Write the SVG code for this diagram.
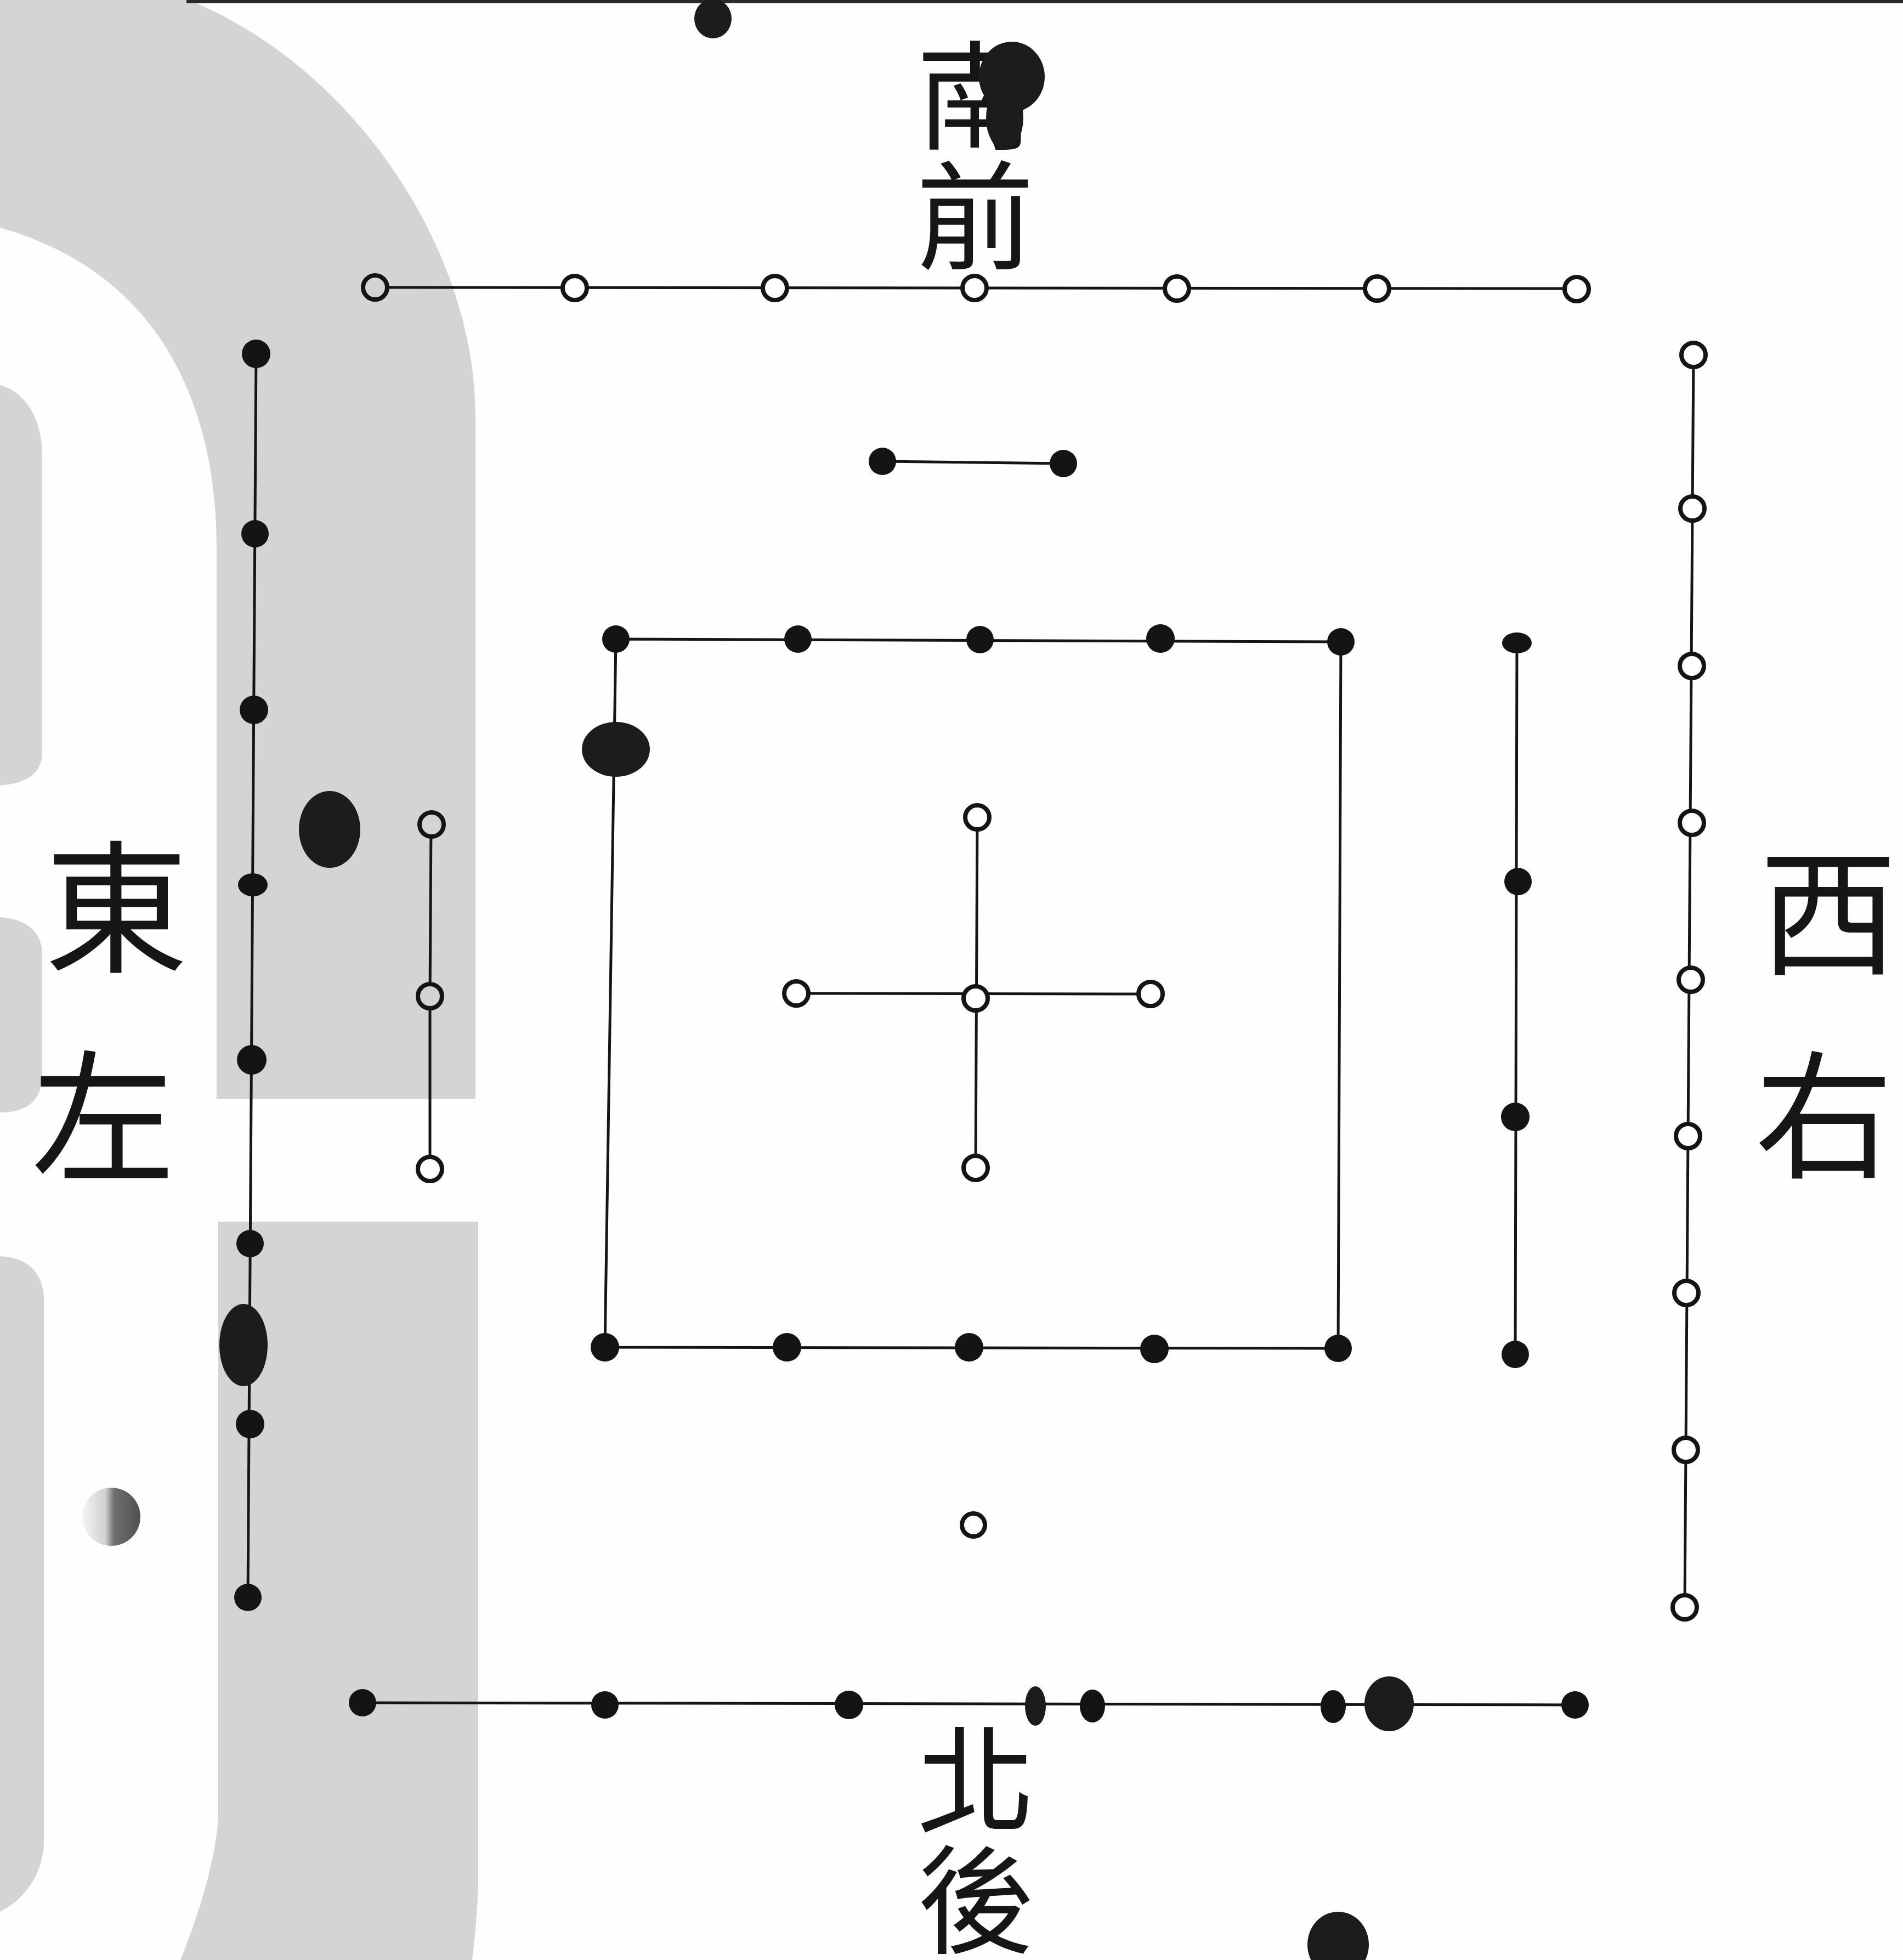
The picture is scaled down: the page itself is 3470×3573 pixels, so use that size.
<svg xmlns="http://www.w3.org/2000/svg" width="3470" height="3573" viewBox="0 0 3470 3573">
<defs>
<style>
.ln{stroke:#151515;stroke-width:5;fill:none;stroke-linecap:round}
.fd{fill:#141414}
.op{fill:#fff;stroke:#141414;stroke-width:8}
.opg{fill:#d4d4d4;stroke:#141414;stroke-width:8}
.gray{fill:#d4d4d4}
.lbl{font-family:"Noto Sans CJK TC","Noto Sans CJK JP",sans-serif;fill:#161616;writing-mode:vertical-rl;text-anchor:start}
.hl{font-family:"Noto Sans CJK TC","Noto Sans CJK JP",sans-serif;fill:#161616;text-anchor:middle;dominant-baseline:central}
.blot{fill:#1c1c1c}
</style>
<linearGradient id="ball" x1="0" y1="0" x2="1" y2="0">
<stop offset="0" stop-color="#f4f4f4"/>
<stop offset="0.4" stop-color="#d0d0d0"/>
<stop offset="0.55" stop-color="#6e6e6e"/>
<stop offset="1" stop-color="#505050"/>
</linearGradient>
</defs>
<rect x="0" y="0" width="3470" height="3573" fill="#fefefe"/>
<g id="background">
<path class="gray" d="M0,0 L344,0 C640,120 867,450 867,760 L867,2003 L395,2003 L395,1000 C395,750 300,500 0,415 Z"/>
<path class="gray" d="M398,2227 L872,2227 L872,3440 Q868,3520 861,3573 L329,3573 Q390,3420 398,3315 Z"/>
<path class="gray" d="M0,702 C50,715 77,770 77,830 L77,1370 C77,1405 55,1428 0,1432 Z"/>
<path class="gray" d="M0,1672 C50,1675 77,1700 77,1740 L77,1960 C77,2005 50,2028 0,2028 Z"/>
<path class="gray" d="M0,2290 C50,2292 80,2320 80,2370 L80,3355 C80,3410 50,3460 0,3485 Z"/>
<line x1="340" y1="3" x2="3470" y2="3" stroke="#2a2a2a" stroke-width="6"/>
</g>
<g id="connectors">
<line class="ln" x1="684" y1="524" x2="2875" y2="526"/>
<line class="ln" x1="1609" y1="841" x2="1939" y2="845"/>
<line class="ln" x1="467" y1="645" x2="452" y2="2912"/>
<polyline class="ln" points="786,1504 784,1816 784,2130"/>
<polygon class="ln" points="1123,1165 2445,1170 2440,2458 1103,2456" stroke-width="4"/>
<line class="ln" x1="1782" y1="1490" x2="1779" y2="2129" stroke-width="4"/>
<line class="ln" x1="1452" y1="1811" x2="2098" y2="1812" stroke-width="4"/>
<line class="ln" x1="2766" y1="1173" x2="2763" y2="2469" stroke-width="4"/>
<line class="ln" x1="3088" y1="647" x2="3072" y2="2930" stroke-width="4"/>
<line class="ln" x1="661" y1="3104" x2="2872" y2="3108"/>
</g>
<g id="south-seven">
<circle class="opg" cx="684" cy="524" r="22"/>
<circle class="op" cx="1048" cy="525" r="22"/>
<circle class="op" cx="1413" cy="525" r="22"/>
<circle class="op" cx="1777" cy="525" r="22"/>
<circle class="op" cx="2146" cy="526" r="22"/>
<circle class="op" cx="2511" cy="526" r="22"/>
<circle class="op" cx="2875" cy="527" r="22"/>
</g>
<g id="south-two">
<circle class="fd" cx="1609" cy="841" r="25"/>
<circle class="fd" cx="1939" cy="845" r="25"/>
</g>
<g id="east-eight">
<circle class="fd" cx="467" cy="645" r="26"/>
<circle class="fd" cx="465" cy="973" r="25"/>
<circle class="fd" cx="463" cy="1294" r="26"/>
<ellipse class="fd" cx="461" cy="1613" rx="27" ry="21"/>
<circle class="fd" cx="459" cy="1932" r="27"/>
<circle class="fd" cx="456" cy="2267" r="25"/>
<circle class="fd" cx="456" cy="2596" r="26"/>
<circle class="fd" cx="452" cy="2912" r="25"/>
</g>
<g id="east-three">
<circle class="opg" cx="787" cy="1503" r="22"/>
<circle class="opg" cx="784" cy="1816" r="22"/>
<circle class="op" cx="784" cy="2131" r="22"/>
</g>
<g id="center-ten">
<circle class="fd" cx="1123" cy="1165" r="25"/>
<circle class="fd" cx="1455" cy="1165" r="25"/>
<circle class="fd" cx="1787" cy="1166" r="25"/>
<circle class="fd" cx="2116" cy="1164" r="26"/>
<circle class="fd" cx="2445" cy="1170" r="25"/>
<circle class="fd" cx="1103" cy="2456" r="26"/>
<circle class="fd" cx="1435" cy="2456" r="26"/>
<circle class="fd" cx="1767" cy="2456" r="26"/>
<circle class="fd" cx="2105" cy="2459" r="26"/>
<circle class="fd" cx="2440" cy="2458" r="25"/>
</g>
<g id="center-five">
<circle class="op" cx="1782" cy="1490" r="22"/>
<circle class="op" cx="1452" cy="1811" r="22"/>
<circle class="op" cx="1779" cy="1820" r="22"/>
<circle class="op" cx="2098" cy="1812" r="22"/>
<circle class="op" cx="1779" cy="2129" r="22"/>
</g>
<g id="west-four">
<ellipse class="fd" cx="2766" cy="1172" rx="27" ry="19"/>
<circle class="fd" cx="2768" cy="1607" r="25"/>
<circle class="fd" cx="2763" cy="2036" r="26"/>
<circle class="fd" cx="2763" cy="2469" r="25"/>
</g>
<g id="west-nine">
<circle class="op" cx="3088" cy="647" r="22"/>
<circle class="op" cx="3086" cy="927" r="22"/>
<circle class="op" cx="3085" cy="1214" r="22"/>
<circle class="op" cx="3085" cy="1500" r="22"/>
<circle class="op" cx="3083" cy="1786" r="22"/>
<circle class="op" cx="3078" cy="2071" r="22"/>
<circle class="op" cx="3075" cy="2357" r="22"/>
<circle class="op" cx="3074" cy="2643" r="22"/>
<circle class="op" cx="3072" cy="2930" r="22"/>
</g>
<g id="north-one">
<circle class="op" cx="1775" cy="2780" r="21"/>
</g>
<g id="north-six">
<circle class="fd" cx="661" cy="3104" r="25"/>
<circle class="fd" cx="1103" cy="3108" r="25"/>
<circle class="fd" cx="1548" cy="3108" r="26"/>
<ellipse class="fd" cx="1992" cy="3110" rx="23" ry="30"/>
<ellipse class="fd" cx="2431" cy="3111" rx="23" ry="30"/>
<circle class="fd" cx="2872" cy="3108" r="25"/>
</g>
<g id="labels">
<text class="lbl" x="1778" y="66" font-size="215" letter-spacing="4">南前</text>
<text class="hl" x="3334" y="1648" font-size="252">西</text>
<text class="hl" x="3326" y="2018" font-size="252">右</text>
<text class="hl" x="212" y="1638" font-size="262">東</text>
<text class="hl" x="188" y="2020" font-size="262">左</text>
<text class="lbl" x="1780" y="3136" font-size="215" letter-spacing="4">北後</text>
</g>
<g id="blots">
<ellipse class="blot" cx="1300" cy="34" rx="34" ry="36"/>
<ellipse class="blot" cx="1845" cy="140" rx="60" ry="64"/>
<ellipse class="blot" cx="1832" cy="215" rx="34" ry="58" fill="#2a2a2a"/>
<ellipse class="blot" cx="1123" cy="1366" rx="62" ry="50"/>
<ellipse class="blot" cx="601" cy="1512" rx="56" ry="70" fill="#2a2a2a"/>
<ellipse class="blot" cx="444" cy="2452" rx="44" ry="75" fill="#333"/>
<ellipse class="blot" cx="1888" cy="3110" rx="19" ry="36"/>
<ellipse class="blot" cx="2533" cy="3106" rx="45" ry="50" fill="#333"/>
<ellipse class="blot" cx="2440" cy="3545" rx="56" ry="60" fill="#2a2a2a"/>
<circle cx="203" cy="2765" r="53" fill="url(#ball)"/>
</g>
</svg>
